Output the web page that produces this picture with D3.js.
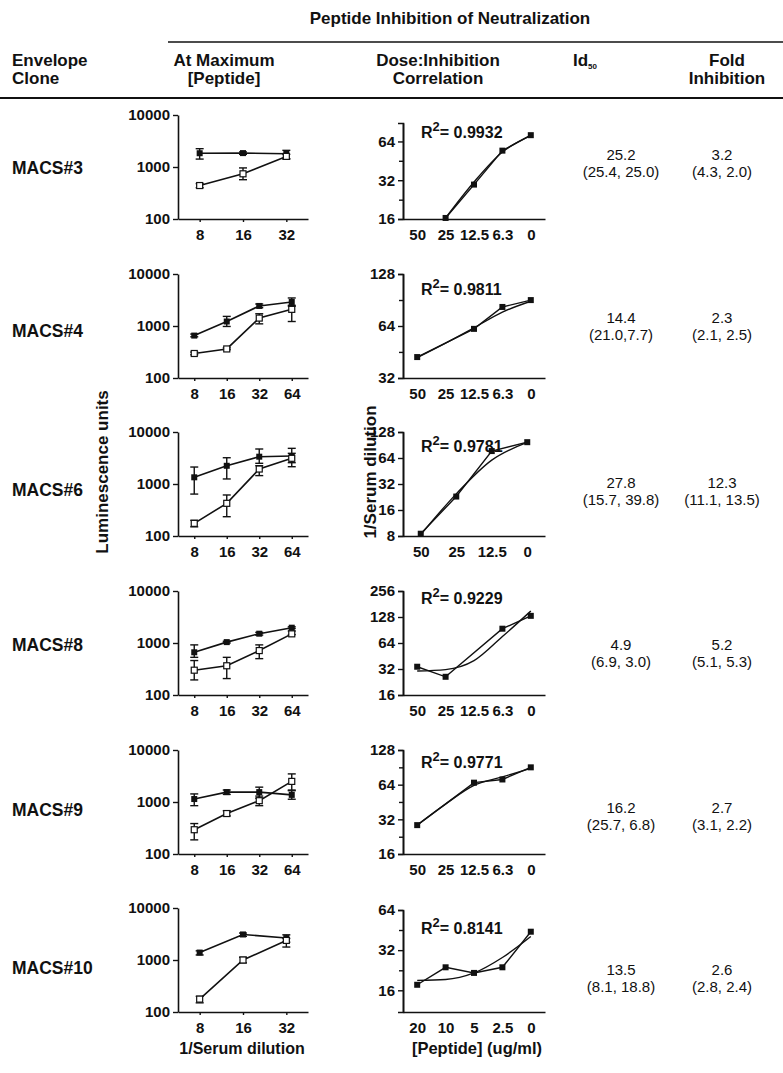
<!DOCTYPE html>
<html>
<head>
<meta charset="utf-8">
<script src="https://cdn.jsdelivr.net/npm/d3@7"></script>
<style>
  body { margin: 0; background: #fff; }
  svg text { font-family: "Liberation Sans", Arial, sans-serif; fill: #111; }
  .b { font-weight: bold; }
</style>
</head>
<body>
<svg id="fig" width="783" height="1073"></svg>
<script>
// rows of the table
const clones = ["MACS#3", "MACS#4", "MACS#6", "MACS#8", "MACS#9", "MACS#10"];

// left column: luminescence at max peptide vs 1/serum dilution
const serumDilutions = [
  ["8", "16", "32"], ["8", "16", "32", "64"], ["8", "16", "32", "64"],
  ["8", "16", "32", "64"], ["8", "16", "32", "64"], ["8", "16", "32"]
];
const lumTicks = [100, 1000, 10000];
const filledMean = [[1840, 1850, 1800], [654, 1220, 2430, 2900], [1345, 2240, 3350, 3450],
  [663, 1040, 1510, 1970], [1140, 1550, 1550, 1370], [1390, 3100, 2640]];
const filledLow = [[1420, 1750, 1420], [620, 980, 2250, 2390], [640, 1250, 2500, 2570],
  [530, 1000, 1420, 1900], [850, 1400, 1180, 1130], [1250, 2850, 2200]];
const filledHigh = [[2250, 1950, 2090], [700, 1530, 2650, 3460], [2120, 3200, 4710, 4850],
  [920, 1080, 1600, 2050], [1430, 1700, 1930, 1700], [1500, 3300, 3050]];
const openMean = [[440, 740, 1600], [296, 362, 1420, 2090], [175, 425, 1940, 3120],
  [300, 365, 715, 1500], [293, 600, 1060, 2490], [177, 1000, 2380]];
const openLow = [[400, 570, 1450], [280, 350, 1100, 1220], [150, 235, 1450, 2150],
  [195, 207, 500, 1450], [187, 540, 850, 1650], [150, 880, 1775]];
const openHigh = [[480, 960, 1750], [315, 380, 1720, 2500], [200, 615, 2250, 3890],
  [460, 530, 920, 1700], [385, 680, 1300, 3470], [200, 1130, 2600]];

// middle column: dose vs 1/serum dilution, with fitted curve
const peptideDoses = [
  ["50", "25", "12.5", "6.3", "0"], ["50", "25", "12.5", "6.3", "0"], ["50", "25", "12.5", "0"],
  ["50", "25", "12.5", "6.3", "0"], ["50", "25", "12.5", "6.3", "0"], ["20", "10", "5", "2.5", "0"]
];
const titreTicks = [[16, 32, 64], [32, 64, 128], [8, 16, 32, 64, 128], [16, 32, 64, 128, 256],
  [16, 32, 64, 128], [16, 32, 64]];
const titreMinor = [[22.6, 45.3], [45.3, 90.5], [], [], [22.6, 45.3, 90.5], [22.6, 45.3]];
const titreRange = [[16, 89], [32, 128], [8, 128], [16, 256], [16, 128], [11, 64]];
const titre = [[null, 16.3, 29.6, 54.3, 71.6], [42.3, null, 61.6, 82.5, 90.4], [8.5, 22.9, 77, 97.6],
  [34, 26, null, 93.7, 132], [28.5, null, 66.6, 71, 90.5], [17.6, 23.8, 21.6, 23.8, 44]];
const titreFit = [[null, 16.3, 31, 53, 71], [42, 51, 62.5, 77, 89], [8.3, 24.6, 60.5, 97],
  [30.3, 31.5, 40, 76, 150], [28.5, 43.4, 63, 74.7, 88.7], [19, 19.3, 21.6, 28.2, 40.5]];
const rSquared = ["0.9932", "0.9811", "0.9781", "0.9229", "0.9771", "0.8141"];

// right columns
const id50 = ["25.2", "14.4", "27.8", "4.9", "16.2", "13.5"];
const id50Range = ["(25.4, 25.0)", "(21.0,7.7)", "(15.7, 39.8)", "(6.9, 3.0)", "(25.7, 6.8)", "(8.1, 18.8)"];
const foldInhibition = ["3.2", "2.3", "12.3", "5.2", "2.7", "2.6"];
const foldRange = ["(4.3, 2.0)", "(2.1, 2.5)", "(11.1, 13.5)", "(5.1, 5.3)", "(3.1, 2.2)", "(2.8, 2.4)"];

// layout
const rowTop = [115, 274, 432, 591, 750, 908];
const chartH = 104;
const midTopShift = [8, 0, 0, 0, 0, 2];
const r2Y = [138, 295, 452, 604, 768, 934];
const cloneY = [174, 337, 496, 651, 816, 974];
const valueY = [160, 323, 488, 650, 813, 975];
const leftX = [178, 308];
const midX = [403, 545];

const svg = d3.select("#fig");

// header
svg.append("text").attr("class", "b").attr("x", 450).attr("y", 24).attr("text-anchor", "middle")
  .style("font-size", "17px").text("Peptide Inhibition of Neutralization");
svg.append("line").attr("x1", 168).attr("x2", 783).attr("y1", 42).attr("y2", 42)
  .attr("stroke", "#111").attr("stroke-width", 1.5);
svg.append("line").attr("x1", 0).attr("x2", 783).attr("y1", 98).attr("y2", 98)
  .attr("stroke", "#111").attr("stroke-width", 2);

const heads = [
  { x: 12, a: "start", l: ["Envelope", "Clone"] },
  { x: 224, a: "middle", l: ["At Maximum", "[Peptide]"] },
  { x: 438, a: "middle", l: ["Dose:Inhibition", "Correlation"] },
  { x: 727, a: "middle", l: ["Fold", "Inhibition"] }
];
heads.forEach(h => {
  h.l.forEach((s, k) => {
    svg.append("text").attr("class", "b").attr("x", h.x).attr("y", 66 + k * 18)
      .attr("text-anchor", h.a).style("font-size", "17px").text(s);
  });
});
const idh = svg.append("text").attr("class", "b").attr("x", 573).attr("y", 66).style("font-size", "17px");
idh.append("tspan").text("Id");
idh.append("tspan").attr("dy", 3).style("font-size", "8px").text("50");

function styleAxis(g) {
  g.select(".domain").attr("stroke", "#111").attr("stroke-width", 1.6);
  g.selectAll(".tick line").attr("stroke", "#111").attr("stroke-width", 1.4);
  g.selectAll(".tick text").attr("class", "b").style("font-size", "15px").attr("fill", "#111");
}

function errBars(g, x, y, lows, highs, labels) {
  labels.forEach((lab, j) => {
    const cx = x(lab);
    g.append("line").attr("x1", cx).attr("x2", cx).attr("y1", y(lows[j])).attr("y2", y(highs[j]))
      .attr("stroke", "#111").attr("stroke-width", 1.4);
    [lows[j], highs[j]].forEach(v => {
      g.append("line").attr("x1", cx - 4).attr("x2", cx + 4).attr("y1", y(v)).attr("y2", y(v))
        .attr("stroke", "#111").attr("stroke-width", 1.4);
    });
  });
}

clones.forEach((clone, i) => {
  const top = rowTop[i];
  const bottom = top + chartH;

  svg.append("text").attr("class", "b").attr("x", 12).attr("y", cloneY[i])
    .style("font-size", "17.5px").text(clone);

  // left chart
  const x = d3.scalePoint().domain(serumDilutions[i]).range(leftX).padding(0.5);
  const y = d3.scaleLog().domain([100, 10000]).range([bottom, top]);
  const gl = svg.append("g");
  gl.append("g").attr("transform", `translate(0,${bottom})`)
    .call(d3.axisBottom(x).tickSize(3).tickSizeOuter(0).tickPadding(7)).call(styleAxis);
  gl.append("g").attr("transform", `translate(${leftX[0]},0)`)
    .call(d3.axisLeft(y).tickValues(lumTicks).tickFormat(d3.format("d")).tickSize(5).tickSizeOuter(0).tickPadding(3))
    .call(styleAxis);

  const line = d3.line().x((d, j) => x(serumDilutions[i][j])).y(d => y(d));
  errBars(gl, x, y, filledLow[i], filledHigh[i], serumDilutions[i]);
  errBars(gl, x, y, openLow[i], openHigh[i], serumDilutions[i]);
  gl.append("path").attr("d", line(filledMean[i])).attr("fill", "none").attr("stroke", "#111").attr("stroke-width", 1.6);
  gl.append("path").attr("d", line(openMean[i])).attr("fill", "none").attr("stroke", "#111").attr("stroke-width", 1.6);
  gl.selectAll(".fsq").data(filledMean[i]).enter().append("rect")
    .attr("x", (d, j) => x(serumDilutions[i][j]) - 3).attr("y", d => y(d) - 3)
    .attr("width", 6).attr("height", 6).attr("fill", "#111");
  gl.selectAll(".osq").data(openMean[i]).enter().append("rect")
    .attr("x", (d, j) => x(serumDilutions[i][j]) - 3).attr("y", d => y(d) - 3)
    .attr("width", 6).attr("height", 6).attr("fill", "#fff").attr("stroke", "#111").attr("stroke-width", 1.2);

  // middle chart
  const mtop = top + midTopShift[i];
  const mx = d3.scalePoint().domain(peptideDoses[i]).range(midX).padding(0.5);
  const my = d3.scaleLog().base(2).domain(titreRange[i]).range([bottom, mtop]);
  const gm = svg.append("g");
  gm.append("g").attr("transform", `translate(0,${bottom})`)
    .call(d3.axisBottom(mx).tickSize(0).tickSizeOuter(0).tickPadding(10)).call(styleAxis);
  gm.append("g").attr("transform", `translate(${midX[0]},0)`)
    .call(d3.axisLeft(my).tickValues(titreMinor[i]).tickFormat("").tickSize(4).tickSizeOuter(0))
    .call(styleAxis);
  gm.append("g").attr("transform", `translate(${midX[0]},0)`)
    .call(d3.axisLeft(my).tickValues(titreTicks[i]).tickFormat(d3.format("d")).tickSize(5).tickSizeOuter(5).tickPadding(3))
    .call(styleAxis);

  const pts = titre[i].map((v, j) => ({ v, k: peptideDoses[i][j] })).filter(d => d.v != null);
  gm.append("path").attr("d", d3.line().x(d => mx(d.k)).y(d => my(d.v))(pts))
    .attr("fill", "none").attr("stroke", "#111").attr("stroke-width", 1.4);
  const fpts = titreFit[i].map((v, j) => ({ v, k: peptideDoses[i][j] })).filter(d => d.v != null);
  gm.append("path").attr("d", d3.line().curve(d3.curveMonotoneX).x(d => mx(d.k)).y(d => my(d.v))(fpts))
    .attr("fill", "none").attr("stroke", "#111").attr("stroke-width", 1.4);
  gm.selectAll(".msq").data(pts).enter().append("rect")
    .attr("x", d => mx(d.k) - 3).attr("y", d => my(d.v) - 3)
    .attr("width", 6).attr("height", 6).attr("fill", "#111");

  const r2 = gm.append("text").attr("class", "b").attr("x", 421).attr("y", r2Y[i]).style("font-size", "16px");
  r2.append("tspan").text("R");
  r2.append("tspan").attr("dy", -7).style("font-size", "13px").text("2");
  r2.append("tspan").attr("dy", 7).text("= " + rSquared[i]);

  // right columns
  const cy = valueY[i];
  [[621, id50[i], id50Range[i]], [722, foldInhibition[i], foldRange[i]]].forEach(([cx, a, b]) => {
    svg.append("text").attr("x", cx).attr("y", cy).attr("text-anchor", "middle").style("font-size", "15px").text(a);
    svg.append("text").attr("x", cx).attr("y", cy + 17).attr("text-anchor", "middle").style("font-size", "15px").text(b);
  });
});

// axis titles
svg.append("text").attr("class", "b").attr("transform", "translate(108,472) rotate(-90)")
  .attr("text-anchor", "middle").style("font-size", "17px").text("Luminescence units");
svg.append("text").attr("class", "b").attr("transform", "translate(376,472) rotate(-90)")
  .attr("text-anchor", "middle").style("font-size", "17px").text("1/Serum dilution");
svg.append("text").attr("class", "b").attr("x", 242).attr("y", 1054)
  .attr("text-anchor", "middle").style("font-size", "16px").text("1/Serum dilution");
svg.append("text").attr("class", "b").attr("x", 477).attr("y", 1054)
  .attr("text-anchor", "middle").style("font-size", "16.5px").text("[Peptide] (ug/ml)");
</script>
</body>
</html>
